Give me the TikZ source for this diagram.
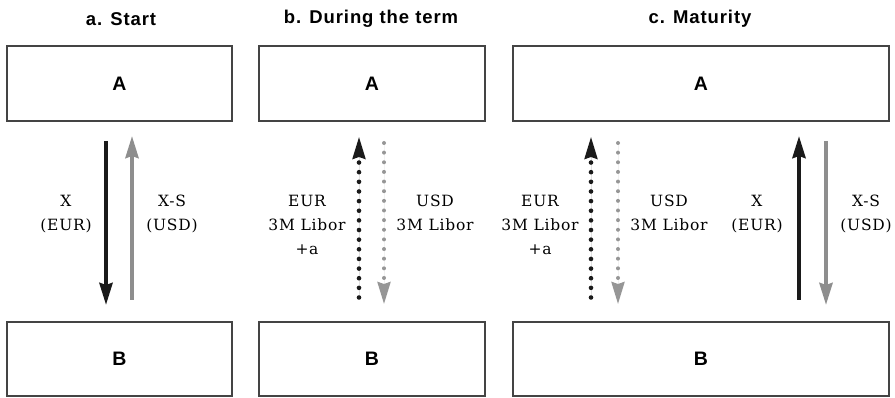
\documentclass[tikz,border=0pt]{standalone}
\usepackage{fontspec}
\setsansfont{Liberation Sans}
\newfontfamily\labelfont{DejaVu Serif}
\usetikzlibrary{arrows.meta,decorations.markings}
\definecolor{inkblack}{HTML}{1A1A1A}
\definecolor{inkgray}{HTML}{8E8E8E}
\definecolor{dotgraycol}{HTML}{969696}
\definecolor{boxline}{HTML}{444444}
\tikzset{
  partybox/.style={draw=boxline, line width=1.3pt, minimum height=75pt, inner sep=0pt,
    font=\sffamily\bfseries\fontsize{19.5}{22}\selectfont},
  paneltitle/.style={font=\sffamily\bfseries\fontsize{18.5}{20}\selectfont\addfontfeatures{LetterSpace=5}, inner sep=0pt},
  flowlabel/.style={align=center, inner sep=0pt,
    font=\labelfont\fontsize{15.5}{24}\selectfont\addfontfeatures{LetterSpace=5}},
  tipsolid/.style={-{Stealth[length=22pt, width=13pt, inset=2pt]}},
  solidblack/.style={tipsolid, line width=4pt, draw=inkblack, fill=inkblack},
  solidgray/.style={tipsolid, line width=4pt, draw=inkgray, fill=inkgray},
  dotted line/.style n args={3}{tipsolid, line width=3pt, dash pattern=on 0pt off 500pt, draw=#1, fill=#1,
    postaction={decorate, decoration={markings,
      mark=between positions 0 and -#3 step 9.64pt with {\fill[#1] (0,0) circle (#2);}}}},
  dotblack/.style={dotted line={inkblack}{2.3pt}{23pt}},
  dotgray/.style={dotted line={dotgraycol}{2pt}{25pt}},
}
\begin{document}
\begin{tikzpicture}[x=1pt, y=-1pt]
\useasboundingbox (0,0) rectangle (895,398);
% titles
\node[paneltitle] (ta) at (121,19) {a. Start};
\node[paneltitle] (tb) at (371,19) {b. During the term};
\node[paneltitle] (tc) at (700,19) {c. Maturity};
% boxes
\node[partybox, minimum width=225pt] (Aa) at (119.5,83.5) {A};
\node[partybox, minimum width=226pt] (Ab) at (372,83.5) {A};
\node[partybox, minimum width=376pt] (Ac) at (701,83.5) {A};
\node[partybox, minimum width=225pt, minimum height=74pt] (Ba) at (119.5,359) {B};
\node[partybox, minimum width=226pt, minimum height=74pt] (Bb) at (372,359) {B};
\node[partybox, minimum width=376pt, minimum height=74pt] (Bc) at (701,359) {B};
% arrow end points
\coordinate (a1s) at (106,141); \coordinate (a1e) at (106,305);
\coordinate (a2s) at (132,300); \coordinate (a2e) at (132,136);
\coordinate (b1s) at (359,297.5); \coordinate (b1e) at (359,137);
\coordinate (b2s) at (384,143); \coordinate (b2e) at (384,304);
\coordinate (c1s) at (591,297.5); \coordinate (c1e) at (591,137);
\coordinate (c2s) at (618,143); \coordinate (c2e) at (618,304);
\coordinate (c3s) at (799,300); \coordinate (c3e) at (799,136);
\coordinate (c4s) at (826,141); \coordinate (c4e) at (826,305);
% arrows
\draw[solidblack] (a1s) -- (a1e);
\draw[solidgray] (a2s) -- (a2e);
\draw[dotblack] (b1s) -- (b1e);
\draw[dotgray] (b2s) -- (b2e);
\draw[dotblack] (c1s) -- (c1e);
\draw[dotgray] (c2s) -- (c2e);
\draw[solidblack] (c3s) -- (c3e);
\draw[solidgray] (c4s) -- (c4e);
% labels
\node[flowlabel] (la1) at (66,214) {X\\(EUR)};
\node[flowlabel] (la2) at (172,214) {X-S\\(USD)};
\node[flowlabel] (lb1) at (307,225) {EUR\\3M Libor\\+a};
\node[flowlabel] (lb2) at (435,213) {USD\\3M Libor};
\node[flowlabel] (lc1) at (540,225) {EUR\\3M Libor\\+a};
\node[flowlabel] (lc2) at (669,213) {USD\\3M Libor};
\node[flowlabel] (lc3) at (757,214) {X\\(EUR)};
\node[flowlabel] (lc4) at (866,214) {X-S\\(USD)};
\end{tikzpicture}
\end{document}
